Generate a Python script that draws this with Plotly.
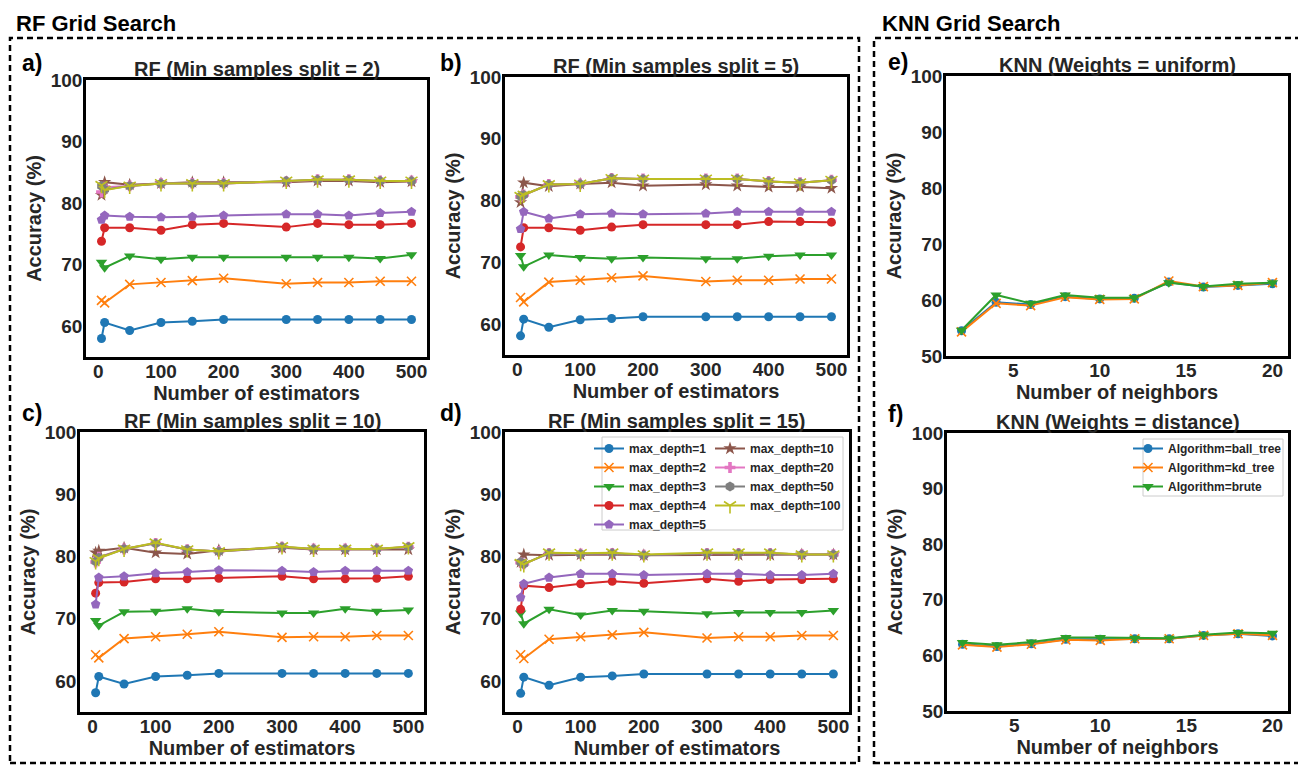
import plotly.graph_objects as go

W, H = 1298, 765
FONT = "Liberation Sans"
TXT = "#262626"

# ---------------- data ----------------
n_estimators = [5, 10, 50, 100, 150, 200, 300, 350, 400, 450, 500]
depth_labels = ["max_depth=1", "max_depth=2", "max_depth=3", "max_depth=4", "max_depth=5",
                "max_depth=10", "max_depth=20", "max_depth=50", "max_depth=100"]

rf_split2 = [
    [58.0, 60.6, 59.3, 60.6, 60.8, 61.1, 61.1, 61.1, 61.1, 61.1, 61.1],
    [64.2, 63.8, 66.8, 67.1, 67.4, 67.8, 66.9, 67.1, 67.1, 67.3, 67.3],
    [70.4, 69.5, 71.4, 70.9, 71.2, 71.2, 71.2, 71.2, 71.2, 71.0, 71.6],
    [73.8, 76.0, 76.0, 75.6, 76.5, 76.7, 76.1, 76.7, 76.5, 76.5, 76.7],
    [77.3, 78.0, 77.8, 77.7, 77.8, 78.0, 78.2, 78.2, 78.0, 78.4, 78.6],
    [81.3, 83.4, 83.0, 83.2, 83.4, 83.4, 83.4, 83.6, 83.6, 83.4, 83.5],
    [81.8, 82.6, 82.8, 83.2, 83.2, 83.2, 83.5, 83.8, 83.8, 83.6, 83.6],
    [82.8, 82.2, 82.8, 83.2, 83.2, 83.2, 83.6, 83.8, 83.8, 83.6, 83.6],
    [82.9, 82.1, 82.8, 83.2, 83.2, 83.2, 83.6, 83.8, 83.8, 83.6, 83.6],
]
rf_split5 = [
    [58.1, 60.8, 59.5, 60.7, 60.9, 61.2, 61.2, 61.2, 61.2, 61.2, 61.2],
    [64.3, 63.6, 66.8, 67.1, 67.5, 67.8, 66.9, 67.1, 67.1, 67.3, 67.3],
    [71.1, 69.3, 71.2, 70.8, 70.6, 70.8, 70.6, 70.6, 71.0, 71.2, 71.2],
    [72.5, 75.6, 75.6, 75.2, 75.7, 76.1, 76.1, 76.1, 76.6, 76.6, 76.5],
    [75.4, 78.2, 77.1, 77.8, 77.9, 77.8, 77.9, 78.2, 78.2, 78.2, 78.2],
    [79.7, 82.9, 82.3, 82.7, 82.9, 82.4, 82.6, 82.4, 82.2, 82.2, 82.0],
    [80.6, 80.9, 82.6, 82.7, 83.6, 83.5, 83.5, 83.5, 83.1, 82.9, 83.3],
    [80.7, 80.9, 82.6, 82.7, 83.6, 83.5, 83.5, 83.5, 83.1, 82.9, 83.3],
    [80.7, 80.9, 82.6, 82.7, 83.6, 83.5, 83.5, 83.5, 83.1, 82.9, 83.3],
]
rf_split10 = [
    [58.1, 60.7, 59.5, 60.7, 60.9, 61.2, 61.2, 61.2, 61.2, 61.2, 61.2],
    [64.2, 63.7, 66.8, 67.1, 67.5, 67.9, 67.0, 67.1, 67.1, 67.3, 67.3],
    [69.7, 68.9, 71.1, 71.2, 71.6, 71.1, 70.9, 70.9, 71.6, 71.2, 71.4],
    [74.1, 75.8, 75.9, 76.4, 76.4, 76.5, 76.8, 76.4, 76.4, 76.5, 76.8],
    [72.3, 76.6, 76.8, 77.3, 77.5, 77.8, 77.7, 77.5, 77.7, 77.7, 77.7],
    [80.6, 80.9, 81.4, 80.6, 80.4, 81.0, 81.4, 81.1, 81.1, 81.1, 81.1],
    [79.1, 79.9, 81.2, 82.1, 81.1, 80.8, 81.5, 81.2, 81.2, 81.2, 81.5],
    [79.2, 79.8, 81.2, 82.1, 81.1, 80.8, 81.5, 81.2, 81.2, 81.2, 81.5],
    [79.2, 79.7, 81.2, 82.2, 81.1, 80.8, 81.6, 81.2, 81.2, 81.2, 81.6],
]
rf_split15 = [
    [58.0, 60.6, 59.3, 60.6, 60.8, 61.1, 61.1, 61.1, 61.1, 61.1, 61.1],
    [64.2, 63.6, 66.7, 67.1, 67.4, 67.8, 66.9, 67.1, 67.1, 67.3, 67.3],
    [70.9, 69.2, 71.5, 70.6, 71.3, 71.2, 70.8, 71.0, 71.0, 71.0, 71.3],
    [71.5, 75.3, 75.0, 75.6, 76.0, 75.7, 76.4, 76.0, 76.3, 76.3, 76.4],
    [73.4, 75.6, 76.6, 77.2, 77.2, 77.0, 77.2, 77.2, 77.0, 77.0, 77.2],
    [79.1, 80.3, 80.2, 80.3, 80.3, 80.2, 80.2, 80.2, 80.2, 80.3, 80.3],
    [79.0, 78.8, 80.5, 80.4, 80.5, 80.2, 80.5, 80.5, 80.5, 80.3, 80.3],
    [79.1, 78.8, 80.5, 80.4, 80.5, 80.2, 80.5, 80.5, 80.5, 80.3, 80.3],
    [78.9, 78.7, 80.6, 80.5, 80.6, 80.3, 80.6, 80.6, 80.6, 80.3, 80.3],
]

n_neighbors = [2, 4, 6, 8, 10, 12, 14, 16, 18, 20]
algo_labels = ["Algorithm=ball_tree", "Algorithm=kd_tree", "Algorithm=brute"]
knn_uniform = [
    [54.5, 59.6, 59.2, 60.6, 60.2, 60.3, 63.2, 62.3, 62.6, 62.9],
    [54.3, 59.4, 59.0, 60.5, 60.1, 60.2, 63.4, 62.4, 62.6, 63.1],
    [54.6, 60.9, 59.4, 60.9, 60.4, 60.4, 63.1, 62.4, 62.9, 63.1],
]
knn_distance = [
    [62.0, 61.6, 62.1, 62.9, 62.9, 63.0, 63.0, 63.6, 63.9, 63.5],
    [61.9, 61.5, 62.0, 62.8, 62.7, 63.0, 63.0, 63.6, 63.9, 63.6],
    [62.3, 61.9, 62.4, 63.2, 63.2, 63.1, 63.1, 63.7, 64.1, 64.0],
]

# ---------------- styling ----------------
COLORS = ["#1f77b4", "#ff7f0e", "#2ca02c", "#d62728", "#9467bd",
          "#8c564b", "#e377c2", "#7f7f7f", "#bcbd22"]
SYMBOLS = ["circle", "x-thin", "triangle-down", "circle", "pentagon",
           "star", "cross", "hexagon", "y-down-open"]
SIZES = [9, 9, 10, 9, 10, 10, 9, 10, 10]
LINE_SYMS = {"x-thin", "y-down-open"}


def marker(i):
    sym = SYMBOLS[i]
    if sym in LINE_SYMS:
        return dict(symbol=sym, size=SIZES[i], color=COLORS[i],
                    line=dict(color=COLORS[i], width=1.6))
    return dict(symbol=sym, size=SIZES[i], color=COLORS[i], line=dict(width=0))


def px_dom_x(a, b):
    return [a / W, b / W]


def px_dom_y(top, bottom):
    return [1 - bottom / H, 1 - top / H]


# axis boxes in pixels: (left, right, top, bottom)
boxes = {
    1: (86, 427, 80, 357),
    2: (505, 847, 77, 355),
    3: (80, 424, 432, 712),
    4: (505, 849, 432, 712),
    5: (946, 1288, 76, 356),
    6: (947, 1288, 433, 711),
}

fig = go.Figure()

rf_sets = [rf_split2, rf_split5, rf_split10, rf_split15]
for k, data in enumerate(rf_sets, start=1):
    for i, ys in enumerate(data):
        fig.add_trace(go.Scatter(
            x=n_estimators, y=ys, mode="lines+markers", name=depth_labels[i],
            line=dict(color=COLORS[i], width=2), marker=marker(i),
            xaxis=f"x{k}", yaxis=f"y{k}",
            showlegend=(k == 4),
            legend="legend" if i < 5 else "legend2",
        ))

for k, data in [(5, knn_uniform), (6, knn_distance)]:
    for i, ys in enumerate(data):
        fig.add_trace(go.Scatter(
            x=n_neighbors, y=ys, mode="lines+markers", name=algo_labels[i],
            line=dict(color=COLORS[i], width=2), marker=marker(i),
            xaxis=f"x{k}", yaxis=f"y{k}",
            showlegend=(k == 6), legend="legend3",
        ))

tickfont = dict(family=FONT, size=19, color=TXT, weight="bold")
titlefont = dict(family=FONT, size=20, color=TXT, weight="bold")

layout_axes = {}
for k, (l, r, t, b) in boxes.items():
    rf = k <= 4
    xa = dict(
        domain=px_dom_x(l, r), anchor=f"y{k}", automargin=False,
        range=[-19.75, 524.75] if rf else [1.1, 20.9],
        tickvals=[0, 100, 200, 300, 400, 500] if rf else [5, 10, 15, 20],
        showline=True, linecolor="black", linewidth=2.5, mirror=True,
        showgrid=False, zeroline=False, ticks="", ticklen=0, tickfont=tickfont,
        ticklabelstandoff=-5,
        title=dict(text="Number of estimators" if rf else "Number of neighbors",
                   font=titlefont, standoff=0),
    )
    ya = dict(
        domain=px_dom_y(t, b), anchor=f"x{k}", automargin=False,
        range=[55, 100] if rf else [50, 100],
        tickvals=[60, 70, 80, 90, 100] if rf else [50, 60, 70, 80, 90, 100],
        showline=True, linecolor="black", linewidth=2.5, mirror=True,
        showgrid=False, zeroline=False, ticks="", ticklen=0, tickfont=tickfont,
        ticklabelstandoff=-3,
        title=dict(text="Accuracy (%)", font=titlefont, standoff=4),
    )
    layout_axes[f"xaxis{k}"] = xa
    layout_axes[f"yaxis{k}"] = ya

panel_titles = {
    1: "RF (Min samples split = 2)",
    2: "RF (Min samples split = 5)",
    3: "RF (Min samples split = 10)",
    4: "RF (Min samples split = 15)",
    5: "KNN (Weights = uniform)",
    6: "KNN (Weights = distance)",
}
annotations = []
for k, txt in panel_titles.items():
    l, r, t, b = boxes[k]
    annotations.append(dict(
        text=txt, xref="paper", yref="paper", x=(l + r) / 2 / W, y=1 - (t - 11) / H,
        xanchor="center", yanchor="middle", showarrow=False,
        font=dict(family=FONT, size=20, color=TXT, weight="bold")))

panel_letters = [("a)", 20, 63), ("b)", 438, 63), ("c)", 20, 413),
                 ("d)", 438, 413), ("e)", 886, 62), ("f)", 886, 414)]
for txt, x, y in panel_letters:
    annotations.append(dict(
        text=txt, xref="paper", yref="paper", x=x / W, y=1 - y / H,
        xanchor="left", yanchor="middle", showarrow=False,
        font=dict(family=FONT, size=23, color="black", weight="bold")))

for txt, x in [("RF Grid Search", 14), ("KNN Grid Search", 880)]:
    annotations.append(dict(
        text=txt, xref="paper", yref="paper", x=x / W, y=1 - 23 / H,
        xanchor="left", yanchor="middle", showarrow=False,
        font=dict(family=FONT, size=22, color="black", weight="bold")))


def prect(x0, y0, x1, y1, **kw):
    return dict(type="rect", xref="paper", yref="paper",
                x0=x0 / W, x1=x1 / W, y0=1 - y1 / H, y1=1 - y0 / H, **kw)


frame_line = dict(color="black", width=2.5, dash="6px,4px")
shapes = [
    prect(10, 38, 859, 763, line=frame_line),
    prect(874, 38, 1320, 763, line=frame_line),
    # legend frames
    prect(602, 437, 843, 530, line=dict(color="#cccccc", width=1), fillcolor="white", layer="above"),
    prect(1143, 439, 1283, 496, line=dict(color="#cccccc", width=1), fillcolor="white", layer="above"),
]

legfont = dict(family=FONT, size=12, color=TXT, weight="bold")
leg_common = dict(bgcolor="rgba(0,0,0,0)", borderwidth=0, font=legfont,
                  xanchor="left", yanchor="top", tracegroupgap=0, itemwidth=30)

fig.update_layout(
    width=W, height=H, margin=dict(l=0, r=0, t=0, b=0, pad=0, autoexpand=False),
    paper_bgcolor="white", plot_bgcolor="white",
    annotations=annotations, shapes=shapes,
    legend=dict(x=589 / W, y=1 - 434 / H, **leg_common),
    legend2=dict(x=710 / W, y=1 - 434 / H, **leg_common),
    legend3=dict(x=1128 / W, y=1 - 434 / H, **leg_common),
    **layout_axes,
)

fig.write_html("out.html")
